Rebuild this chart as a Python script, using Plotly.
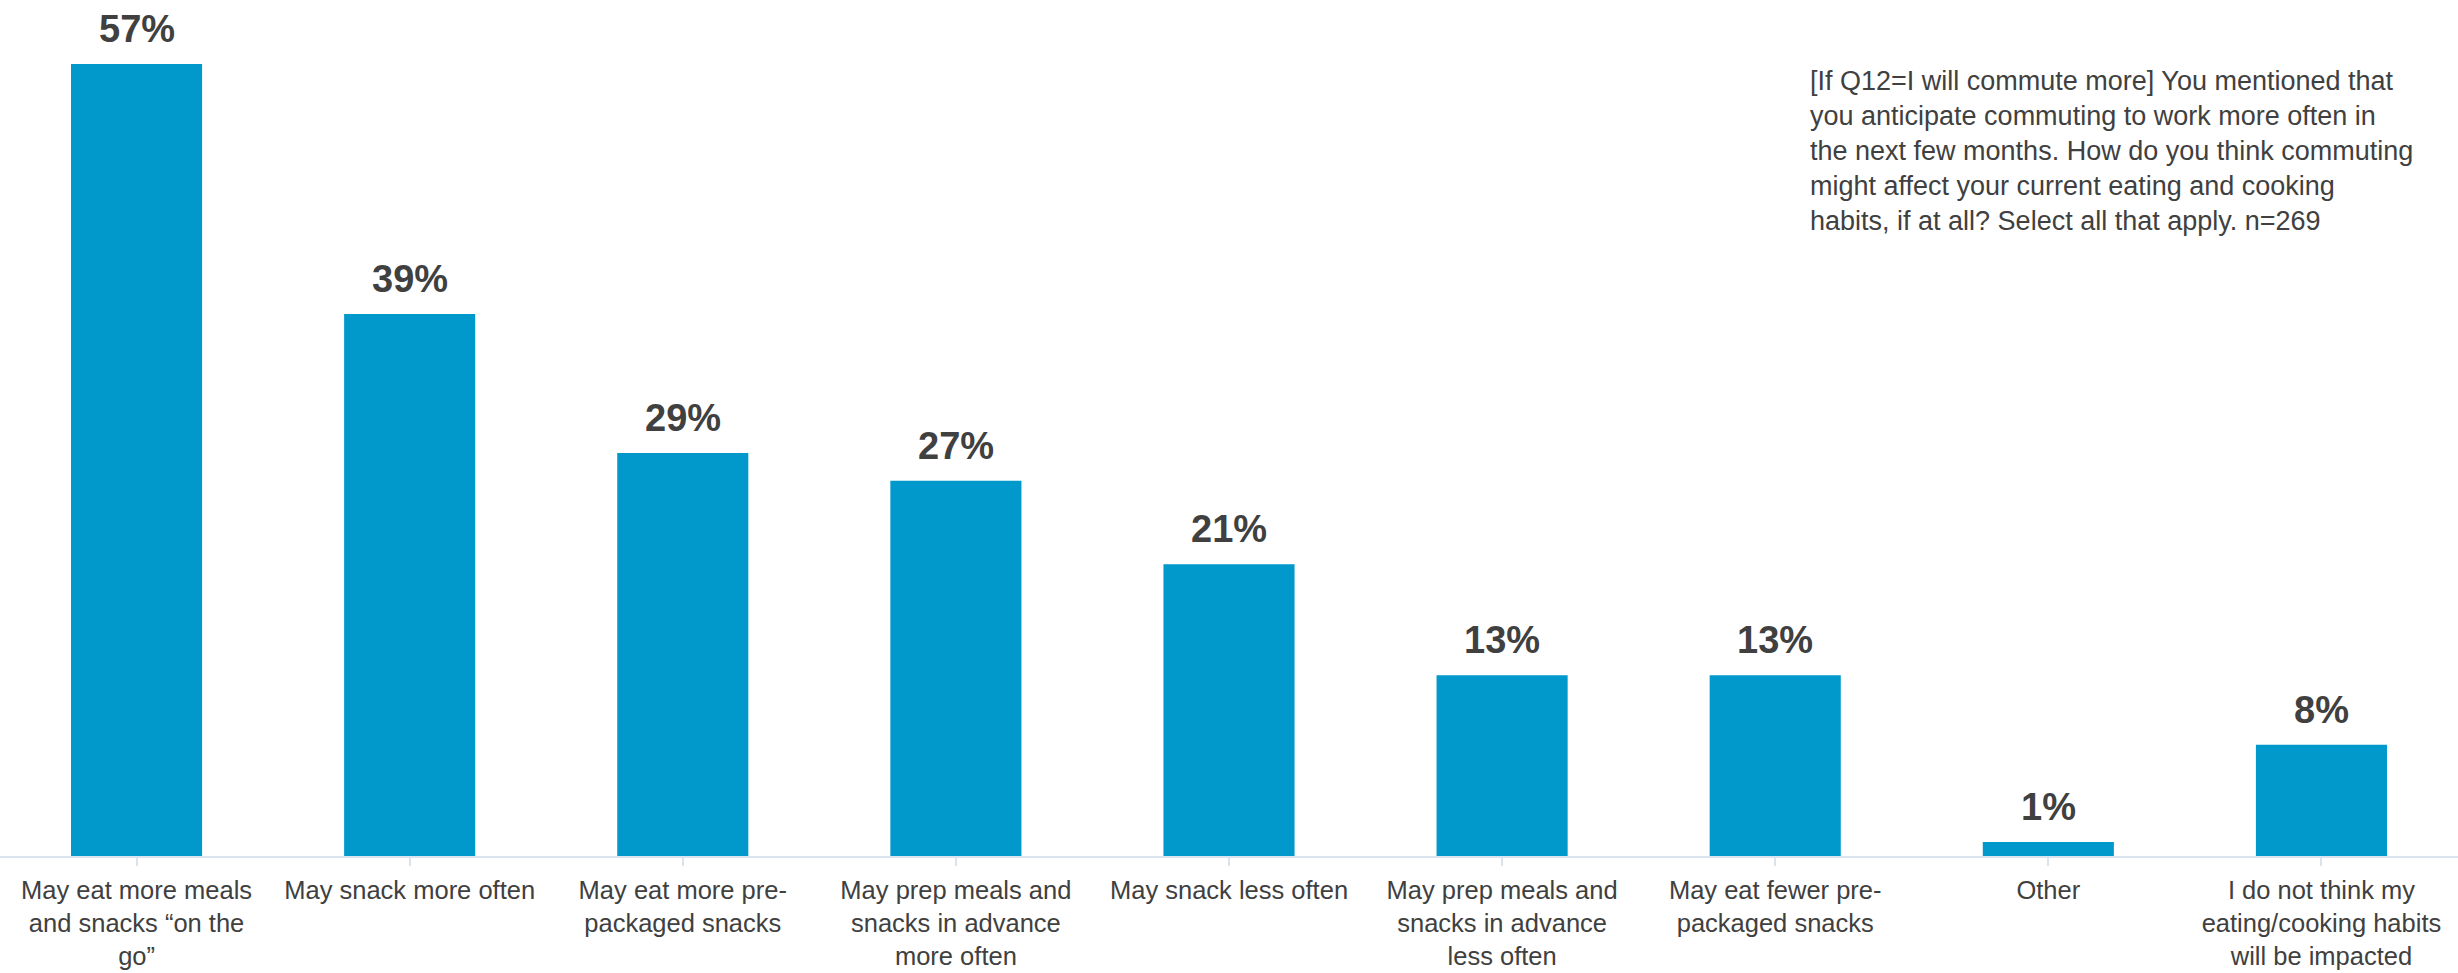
import plotly.graph_objects as go

categories = [
    "May eat more meals<br>and snacks “on the<br>go”",
    "May snack more often",
    "May eat more pre-<br>packaged snacks",
    "May prep meals and<br>snacks in advance<br>more often",
    "May snack less often",
    "May prep meals and<br>snacks in advance<br>less often",
    "May eat fewer pre-<br>packaged snacks",
    "Other",
    "I do not think my<br>eating/cooking habits<br>will be impacted",
]
values = [57, 39, 29, 27, 21, 13, 13, 1, 8]
labels = [f"{v}%" for v in values]

question = (
    "[If Q12=I will commute more] You mentioned that<br>"
    "you anticipate commuting to work more often in<br>"
    "the next few months. How do you think commuting<br>"
    "might affect your current eating and cooking<br>"
    "habits, if at all? Select all that apply. n=269"
)

BAR = "#0199CC"
TXT = "#404040"
AX = "#DAE3F0"
FONT = "Liberation Sans, Arial, sans-serif"

x_idx = list(range(len(categories)))

fig = go.Figure()
fig.add_trace(go.Bar(
    x=x_idx, y=values, width=0.48,
    marker=dict(color=BAR, line=dict(width=0)),
    hoverinfo="skip", showlegend=False,
))

for xi, v, lab in zip(x_idx, values, labels):
    fig.add_annotation(
        x=xi, y=v, xref="x", yref="y", text=lab, showarrow=False,
        yanchor="middle", yshift=35,
        font=dict(family=FONT, size=38, color=TXT, weight="bold"),
    )

fig.add_annotation(
    x=0.7356, y=0.925, xref="paper", yref="paper", xanchor="left", yanchor="top",
    align="left", showarrow=False, text=question,
    font=dict(family=FONT, size=27, color=TXT),
)

fig.update_layout(
    width=2458, height=973,
    margin=dict(l=0, r=0, t=0, b=117, autoexpand=False),
    paper_bgcolor="white", plot_bgcolor="white",
    bargap=0.52,
    xaxis=dict(
        tickmode="array", tickvals=x_idx, ticktext=categories,
        range=[-0.5, len(categories) - 0.5],
        showline=True, linecolor=AX, linewidth=2,
        ticks="outside", tickson="boundaries", ticklen=8, tickcolor=AX, tickwidth=2,
        ticklabelstandoff=2, automargin=False,
        tickfont=dict(family=FONT, size=25.5, color=TXT),
        showgrid=False, zeroline=False, tickangle=0,
    ),
    yaxis=dict(range=[0, 61.6], visible=False, showgrid=False, zeroline=False),
)

fig.write_html(
    "out.html",
    config={"displayModeBar": False},
    post_script="document.body.style.margin='0';document.body.style.overflow='hidden';",
)
